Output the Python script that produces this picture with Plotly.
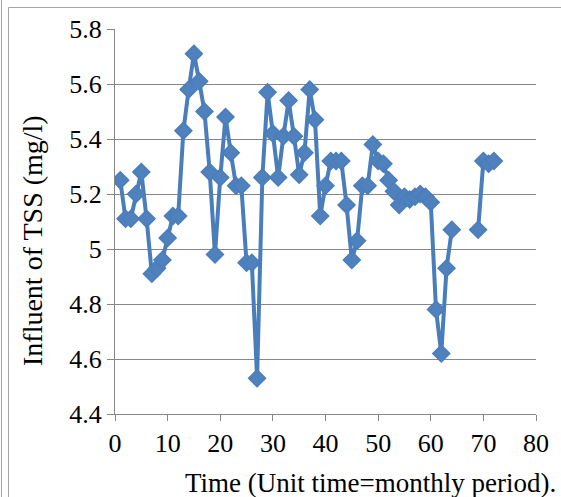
import plotly.graph_objects as go

# Time index (monthly period) and influent TSS values (mg/l); months 65-68 missing
time = list(range(1, 73))
tss = [5.25, 5.11, 5.11, 5.20, 5.28, 5.11, 4.91, 4.93, 4.96, 5.04,
       5.12, 5.12, 5.43, 5.58, 5.71, 5.61, 5.50, 5.28, 4.98, 5.26,
       5.48, 5.35, 5.23, 5.23, 4.95, 4.95, 4.53, 5.26, 5.57, 5.42,
       5.26, 5.41, 5.54, 5.41, 5.27, 5.35, 5.58, 5.47, 5.12, 5.23,
       5.32, 5.32, 5.32, 5.16, 4.96, 5.03, 5.23, 5.23, 5.38, 5.32,
       5.31, 5.25, 5.21, 5.16, 5.19, 5.18, 5.19, 5.20, 5.19, 5.17,
       4.78, 4.62, 4.93, 5.07, None, None, None, None, 5.07, 5.32,
       5.31, 5.32]
x_ticks = [0, 10, 20, 30, 40, 50, 60, 70, 80]
y_ticks = [4.4, 4.6, 4.8, 5.0, 5.2, 5.4, 5.6, 5.8]
y_tick_text = ["4.4", "4.6", "4.8", "5", "5.2", "5.4", "5.6", "5.8"]

W, H = 561, 497
L, R, T, B = 115, 25, 29, 83
pw, ph = W - L - R, H - T - B

def px(xp):
    return (xp - L) / pw

def py(yp):
    return (H - B - yp) / ph

font = "Liberation Serif, serif"
blue = "#4A7EBB"
grid = "#878787"
tick_size = 26
title_size = 27

fig = go.Figure()
fig.add_trace(go.Scatter(
    x=time, y=tss, mode="lines+markers", connectgaps=False,
    line=dict(color=blue, width=4),
    marker=dict(symbol="diamond", size=13, color="#4F81BD",
                line=dict(color=blue, width=1.5)),
    showlegend=False, hoverinfo="x+y",
))

fig.update_layout(
    width=W, height=H, autosize=False,
    margin=dict(l=L, r=R, t=T, b=B, pad=0),
    paper_bgcolor="white", plot_bgcolor="white",
    font=dict(family=font, size=tick_size, color="black"),
    xaxis=dict(range=[0, 80], tickvals=x_ticks, ticktext=[str(v) for v in x_ticks],
               showgrid=False, zeroline=False, showline=True, linecolor=grid,
               linewidth=1, ticks="outside", ticklen=6, tickcolor=grid,
               tickfont=dict(family=font, size=tick_size, color="black")),
    yaxis=dict(range=[4.4, 5.8], tickvals=y_ticks, ticktext=y_tick_text,
               showgrid=True, gridcolor=grid, gridwidth=1, zeroline=False,
               showline=True, linecolor=grid, linewidth=1,
               ticks="outside", ticklen=7, tickcolor=grid,
               tickfont=dict(family=font, size=tick_size, color="black")),
    annotations=[
        dict(text="Influent of TSS (mg/l)", textangle=-90, showarrow=False,
             xref="paper", yref="paper", x=px(33), y=py(241),
             xanchor="center", yanchor="middle",
             font=dict(family=font, size=28, color="black")),
        dict(text="Time (Unit time=monthly period).", showarrow=False,
             xref="paper", yref="paper", x=px(558), y=py(483),
             xanchor="right", yanchor="middle",
             font=dict(family=font, size=title_size, color="black")),
    ],
    shapes=[
        dict(type="line", xref="paper", yref="paper", x0=px(1.5), x1=px(1.5),
             y0=py(0), y1=py(H), line=dict(color="#a6a6a6", width=1)),
        dict(type="line", xref="paper", yref="paper", x0=px(8.5), x1=px(8.5),
             y0=py(7.5), y1=py(H), line=dict(color="#a6a6a6", width=1)),
        dict(type="line", xref="paper", yref="paper", x0=px(8.5), x1=px(W),
             y0=py(7.5), y1=py(7.5), line=dict(color="#a6a6a6", width=1)),
    ],
)

fig.write_html("out.html")
